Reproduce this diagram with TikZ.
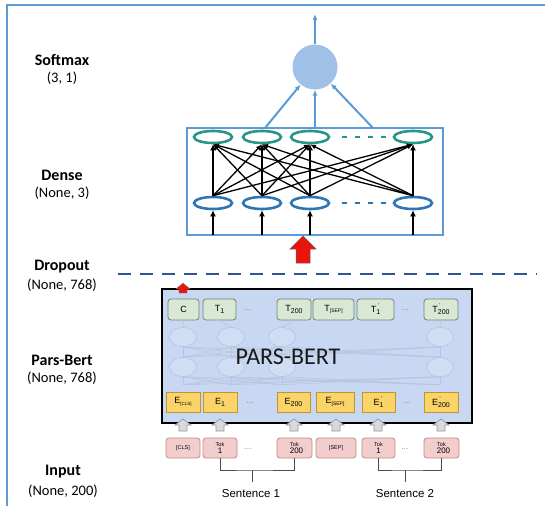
\documentclass[tikz,border=0pt]{standalone}
\usepackage{fontspec}
\setmainfont{Carlito}
\newfontfamily\arialf{Liberation Sans}
\usetikzlibrary{arrows.meta,shapes.geometric}
\definecolor{framec}{RGB}{91,155,213}
\definecolor{tealn}{RGB}{40,150,135}
\definecolor{bluen}{RGB}{46,117,182}
\definecolor{smfill}{RGB}{160,192,232}
\definecolor{dashc}{RGB}{47,85,151}
\definecolor{bertfill}{RGB}{200,216,242}
\definecolor{faintc}{RGB}{182,196,222}
\definecolor{greenf}{RGB}{217,232,213}
\definecolor{greenb}{RGB}{110,135,110}
\definecolor{yellowf}{RGB}{250,212,105}
\definecolor{yellowb}{RGB}{190,150,50}
\definecolor{greyf}{RGB}{218,218,218}
\definecolor{greyb}{RGB}{150,150,150}
\definecolor{pinkf}{RGB}{243,204,204}
\definecolor{pinkb}{RGB}{190,140,140}
\definecolor{redarr}{RGB}{235,20,10}
\newcommand{\tsb}[3]{#1\makebox[0pt][l]{\kern1.5pt\raisebox{5pt}{\fontsize{5.5}{6}\selectfont #3}}\raisebox{-2pt}{\fontsize{7}{7}\selectfont #2}}
\begin{document}
\begin{tikzpicture}[x=1pt,y=-1pt,
  lab/.style={font=\bfseries\fontsize{16}{16}\selectfont, inner sep=0},
  sublab/.style={font=\fontsize{14.5}{14.5}\selectfont, inner sep=0},
  neuT/.style={ellipse, draw=tealn, line width=2.6, minimum width=38, minimum height=12, inner sep=0},
  neuB/.style={ellipse, draw=bluen, line width=2.6, minimum width=38, minimum height=12, inner sep=0},
  conn/.style={black, line width=1.3, -{Latex[length=6,width=5]}},
  vconn/.style={black, line width=2.4, -{Latex[length=6,width=6]}},
  smarrow/.style={framec, line width=2, -{Latex[length=6,width=5]}},
  faintell/.style={ellipse, draw=faintc, fill=bertfill!85!white, line width=0.6, minimum width=27, minimum height=19, inner sep=0},
  faintln/.style={faintc, line width=0.5},
  tbox/.style={draw=greenb, fill=greenf, rounded corners=3, line width=0.8, minimum height=21, inner sep=0, font=\arialf\fontsize{9}{9}\selectfont},
  ebox/.style={draw=yellowb, fill=yellowf, line width=0.8, minimum height=20, inner sep=0, font=\arialf\fontsize{9}{9}\selectfont},
  tokbox/.style={draw=pinkb, fill=pinkf, rounded corners=3, line width=0.8, minimum height=20, inner sep=0, align=center, font=\arialf\fontsize{8}{8}\selectfont},
  dots/.style={text=gray, font=\arialf\fontsize{8}{8}\selectfont, inner sep=0},
  brk/.style={black!70, line width=0.8},
  greyarrow/.pic={\draw[greyb, fill=greyf, line width=0.7] (0,0) -- (8,6) -- (4,6) -- (4,12) -- (-4,12) -- (-4,6) -- (-8,6) -- cycle;},
  bigred/.pic={\draw[black!60, fill=redarr, line width=0.5] (0,0) -- (13,13) -- (7,13) -- (7,27) -- (-7,27) -- (-7,13) -- (-13,13) -- cycle;},
  smallred/.pic={\draw[black!50, fill=redarr, line width=0.4] (0,0) -- (7,6) -- (4,6) -- (4,10) -- (-4,10) -- (-4,6) -- (-7,6) -- cycle;}
]
\useasboundingbox (0,0) rectangle (545,506);
% frame
\draw[framec, line width=2] (545,5) -- (7,5) -- (7,506);

% left labels
\node[lab] (lsoft) at (62,60) {Softmax};
\node[sublab] (lsoft2) at (62,78) {(3, 1)};
\node[lab] (ldense) at (62,175) {Dense};
\node[sublab] (ldense2) at (62,193) {(None, 3)};
\node[lab] (ldrop) at (62,267) {Dropout};
\node[sublab] (ldrop2) at (62,285) {(None, 768)};
\node[lab] (lbert) at (62,360) {Pars-Bert};
\node[sublab] (lbert2) at (62,378) {(None, 768)};
\node[lab] (linput) at (63,472) {Input};
\node[sublab] (linput2) at (63,491) {(None, 200)};

% softmax
\node[circle, fill=smfill, minimum size=45, inner sep=0] (sm) at (315,67) {};
\coordinate (out) at (315,14);
\draw[smarrow] (sm) -- (out);

% dense box
\node[draw=framec, line width=2, minimum width=256, minimum height=107, inner sep=0] (dbox) at (315,181.5) {};
\coordinate (d1) at (265,128);
\coordinate (d2) at (315,128);
\coordinate (d3) at (373,128);
\draw[smarrow] (d1) -- (sm);
\draw[smarrow] (d2) -- (sm);
\draw[smarrow] (d3) -- (sm);

% neurons
\foreach \i/\x in {1/213,2/262,3/310,4/413}{
  \node[neuT] (t\i) at (\x,137) {};
  \node[neuB] (b\i) at (\x,203) {};
}
\draw[tealn, line width=2.8, dash pattern=on 5 off 8] (342,137) -- (390,137);
\draw[bluen, line width=2.8, dash pattern=on 5 off 8] (342,203) -- (390,203);

\foreach \i in {1,...,4}{
  \foreach \j in {1,...,4}{
    \ifnum\i=\j
      \draw[vconn] (b\i.north) -- (t\j.south);
    \else
      \draw[conn] (b\i.north) -- (t\j.south);
    \fi
  }
}
\foreach \i/\x in {1/213,2/262,3/310,4/413}{
  \coordinate (in\i) at (\x,235);
  \draw[vconn] (in\i) -- (b\i.south);
}

% big red arrow
\pic at (303,236) {bigred};

% dropout dashed line
\draw[dashc, line width=2.5, dash pattern=on 13 off 9] (118,274) -- (537,274);

% PARS-BERT box
\node[draw=black, line width=1.6, fill=bertfill, minimum width=310, minimum height=134, inner sep=0] (bert) at (317,356) {};

% faint internal structure
\foreach \k/\x in {1/183,2/231,3/282,4/440}{
  \node[faintell] (fa\k) at (\x,337) {};
  \node[faintell] (fb\k) at (\x,367) {};
}
\foreach \k in {1,...,4}{
  \foreach \m in {1,...,4}{
    \draw[faintln] (fa\k.south) -- (fb\m.north);
    \draw[faintln] (fb\k.south) -- ([yshift=-8]fb\m.south);
  }
}

\node[font=\fontsize{24}{24}\selectfont, text=black!90, inner sep=0] (bertlabel) at (288,357) {PARS-BERT};

% T row
\node[tbox, minimum width=31] (tc) at (183.5,309.5) {C};
\node[tbox, minimum width=33] (t1n) at (219.5,309.5) {\tsb{T}{1}{}};
\node[dots] (dt1) at (248,310) {...};
\node[tbox, minimum width=34] (t200) at (294,309.5) {\tsb{T}{200}{}};
\node[tbox, minimum width=41] (tsep) at (333.5,309.5) {T\raisebox{-1.5pt}{\fontsize{5}{5}\selectfont [SEP]}};
\node[tbox, minimum width=37] (t1p) at (375.5,309.5) {\tsb{T}{1}{'}};
\node[dots] (dt2) at (405,310) {...};
\node[tbox, minimum width=34] (t200p) at (441,309.5) {\tsb{T}{200}{'}};

\foreach \k/\n in {1/tc,2/t1n,3/t200,4/t200p}{
  \draw[faintln] (\n.south) -- (fa\k.north);
}

% small red arrow
\pic at (183,283) {smallred};

% E row
\node[ebox, minimum width=34] (ecls) at (183,402) {E\raisebox{-1.5pt}{\fontsize{4.5}{5}\selectfont [CLS]}};
\node[ebox, minimum width=34] (e1) at (220,402) {\tsb{E}{1}{}};
\node[dots] (de1) at (250,403) {...};
\node[ebox, minimum width=33] (e200) at (293.5,402) {\tsb{E}{200}{}};
\node[ebox, minimum width=38] (esep) at (335,402) {E\raisebox{-1.5pt}{\fontsize{5}{5}\selectfont [SEP]}};
\node[ebox, minimum width=33] (e1p) at (378.5,402) {\tsb{E}{1}{'}};
\node[dots] (de2) at (407,403) {...};
\node[ebox, minimum width=34] (e200p) at (441,402) {\tsb{E}{200}{'}};

% grey arrows
\foreach \x in {183,220,294,336,378,441}{
  \pic at (\x,419) {greyarrow};
}

% token row
\node[tokbox, minimum width=34] (tokcls) at (183,448) {\fontsize{5.5}{6}\selectfont [CLS]};
\node[tokbox, minimum width=34] (tok1) at (220,448) {{\fontsize{5.5}{6}\selectfont Tok}\\[-1pt]1};
\node[dots] (dk1) at (248,449) {...};
\node[tokbox, minimum width=35] (tok200) at (294.5,448) {{\fontsize{5.5}{6}\selectfont Tok}\\[-1pt]\hspace*{4pt}200};
\node[tokbox, minimum width=40] (toksep) at (336,448) {\fontsize{5.5}{6}\selectfont [SEP]};
\node[tokbox, minimum width=33] (tok1p) at (378.5,448) {{\fontsize{5.5}{6}\selectfont Tok}\\[-1pt]1};
\node[dots] (dk2) at (405,449) {...};
\node[tokbox, minimum width=35] (tok200p) at (441.5,448) {{\fontsize{5.5}{6}\selectfont Tok}\\[-1pt]\hspace*{4pt}200};

% sentence brackets
\node[font=\arialf\fontsize{11.5}{11.5}\selectfont, inner sep=0] (sen1) at (251,494) {Sentence 1};
\node[font=\arialf\fontsize{11.5}{11.5}\selectfont, inner sep=0] (sen2) at (405,494) {Sentence 2};
\coordinate (s1top) at (252,470);
\coordinate (s1bot) at (252,482);
\coordinate (s2top) at (405,470);
\coordinate (s2bot) at (405,482);
\draw[brk] (tok1.south) |- (s1top) -| (tok200.south);
\draw[brk] (s1top) -- (s1bot);
\draw[brk] (tok1p.south) |- (s2top) -| (tok200p.south);
\draw[brk] (s2top) -- (s2bot);
\end{tikzpicture}
\end{document}
